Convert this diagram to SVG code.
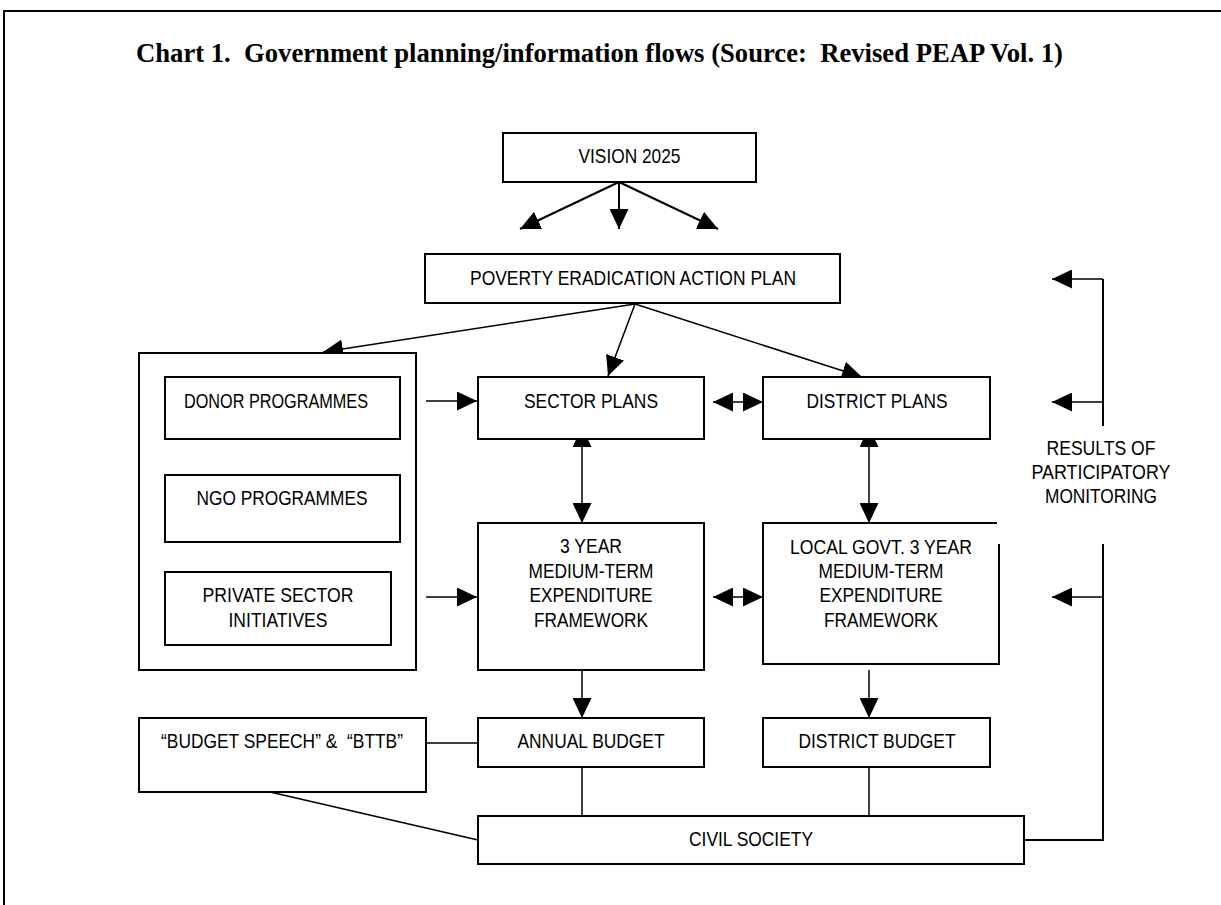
<svg xmlns="http://www.w3.org/2000/svg" width="1221" height="905" viewBox="0 0 1221 905">
<style>
.box{fill:#fff;stroke:#000;stroke-width:2}
.t{font-family:"Liberation Sans Narrow","Arial Narrow","Liberation Sans",Arial,sans-serif;font-size:21px;fill:#000;text-anchor:middle}
.title{font-family:"Liberation Serif","Times New Roman",serif;font-size:26.5px;font-weight:bold;fill:#000}
.c{fill:none;stroke:#000;stroke-width:1.5}
.cw{fill:none;stroke:#000;stroke-width:2}
.a{marker-end:url(#ah)}
.d{marker-start:url(#ah);marker-end:url(#ah)}
</style>
<defs>
<marker id="ah" viewBox="0 0 20 19" refX="20" refY="9.5" markerWidth="20" markerHeight="19" markerUnits="userSpaceOnUse" orient="auto-start-reverse">
<path d="M0,0 L20,9.5 L0,19 Z" fill="#000"/>
</marker>
</defs>
<rect x="0" y="0" width="1221" height="905" fill="#fff"/>
<rect id="frame" x="4" y="11" width="1240" height="920" fill="none" stroke="#000" stroke-width="2"/>
<text class="title" x="136" y="62" textLength="927" lengthAdjust="spacingAndGlyphs" xml:space="preserve">Chart 1.  Government planning/information flows (Source:  Revised PEAP Vol. 1)</text>

<g id="connectors">
<line class="cw a" x1="619" y1="182" x2="520" y2="229"/>
<line class="cw a" x1="619" y1="182" x2="619" y2="229"/>
<line class="cw a" x1="619" y1="182" x2="718" y2="229"/>
<line class="c a" x1="635" y1="304" x2="323" y2="352"/>
<line class="c a" x1="635" y1="304" x2="608" y2="376"/>
<line class="c a" x1="635" y1="304" x2="862" y2="377"/>
<line class="c a" x1="426" y1="401" x2="477" y2="401"/>
<line class="c a" x1="426" y1="597" x2="477" y2="597"/>
<line class="c d" x1="713" y1="402" x2="763" y2="402"/>
<line class="c d" x1="713" y1="597" x2="763" y2="597"/>
<line class="c d" x1="582" y1="427" x2="582" y2="523"/>
<line class="c d" x1="869" y1="427" x2="869" y2="523"/>
<line class="c a" x1="582" y1="670" x2="582" y2="718"/>
<line class="c a" x1="869" y1="670" x2="869" y2="718"/>
<line class="c" x1="426" y1="743" x2="478" y2="743"/>
<line class="c" x1="582" y1="767" x2="582" y2="816"/>
<line class="c" x1="869" y1="767" x2="869" y2="816"/>
<line class="c" x1="270" y1="792" x2="478" y2="840"/>
<polyline class="cw" points="1024,840 1103,840 1103,544"/>
<line class="cw" x1="1103" y1="279" x2="1103" y2="426"/>
<line class="c a" x1="1103" y1="279" x2="1052" y2="279"/>
<line class="c a" x1="1103" y1="402" x2="1052" y2="402"/>
<line class="c a" x1="1103" y1="597" x2="1052" y2="597"/>
</g>

<g id="vision">
<rect class="box" x="503" y="133" width="253" height="49"/>
<text class="t" x="629.5" y="163" textLength="102" lengthAdjust="spacingAndGlyphs">VISION 2025</text>
</g>
<g id="peap">
<rect class="box" x="425" y="254" width="415" height="49"/>
<text class="t" x="633" y="285" textLength="326" lengthAdjust="spacingAndGlyphs">POVERTY ERADICATION ACTION PLAN</text>
</g>
<g id="nonstate">
<rect class="box" x="139" y="353" width="277" height="317"/>
</g>
<g id="donor">
<rect class="box" x="165" y="377" width="235" height="62"/>
<text class="t" x="276" y="408" textLength="184" lengthAdjust="spacingAndGlyphs">DONOR PROGRAMMES</text>
</g>
<g id="ngo">
<rect class="box" x="165" y="475" width="235" height="67"/>
<text class="t" x="282" y="505" textLength="171" lengthAdjust="spacingAndGlyphs">NGO PROGRAMMES</text>
</g>
<g id="private">
<rect class="box" x="165" y="572" width="226" height="73"/>
<text class="t" x="278" y="602" textLength="151" lengthAdjust="spacingAndGlyphs">PRIVATE SECTOR</text>
<text class="t" x="278" y="627" textLength="99" lengthAdjust="spacingAndGlyphs">INITIATIVES</text>
</g>
<g id="sector">
<rect class="box" x="478" y="377" width="226" height="62"/>
<text class="t" x="591" y="408" textLength="134" lengthAdjust="spacingAndGlyphs">SECTOR PLANS</text>
</g>
<g id="district">
<rect class="box" x="763" y="377" width="227" height="62"/>
<text class="t" x="877" y="408" textLength="141" lengthAdjust="spacingAndGlyphs">DISTRICT PLANS</text>
</g>
<g id="mtef">
<rect class="box" x="478" y="523" width="226" height="147"/>
<text class="t" x="591" y="553" textLength="62" lengthAdjust="spacingAndGlyphs">3 YEAR</text>
<text class="t" x="591" y="578" textLength="125" lengthAdjust="spacingAndGlyphs">MEDIUM-TERM</text>
<text class="t" x="591" y="602" textLength="123" lengthAdjust="spacingAndGlyphs">EXPENDITURE</text>
<text class="t" x="591" y="627" textLength="114" lengthAdjust="spacingAndGlyphs">FRAMEWORK</text>
</g>
<g id="localmtef">
<path d="M997,523 H763 V664 H999 V544" fill="#fff" stroke="#000" stroke-width="2"/>
<text class="t" x="881" y="554" textLength="182" lengthAdjust="spacingAndGlyphs">LOCAL GOVT. 3 YEAR</text>
<text class="t" x="881" y="578" textLength="125" lengthAdjust="spacingAndGlyphs">MEDIUM-TERM</text>
<text class="t" x="881" y="602" textLength="123" lengthAdjust="spacingAndGlyphs">EXPENDITURE</text>
<text class="t" x="881" y="627" textLength="114" lengthAdjust="spacingAndGlyphs">FRAMEWORK</text>
</g>
<g id="speech">
<rect class="box" x="139" y="718" width="287" height="74"/>
<text class="t" x="282" y="748" textLength="242" lengthAdjust="spacingAndGlyphs" xml:space="preserve">“BUDGET SPEECH” &amp;  “BTTB”</text>
</g>
<g id="annual">
<rect class="box" x="478" y="718" width="226" height="49"/>
<text class="t" x="591" y="748" textLength="147" lengthAdjust="spacingAndGlyphs">ANNUAL BUDGET</text>
</g>
<g id="districtbudget">
<rect class="box" x="763" y="718" width="227" height="49"/>
<text class="t" x="877" y="748" textLength="157" lengthAdjust="spacingAndGlyphs">DISTRICT BUDGET</text>
</g>
<g id="civil">
<rect class="box" x="478" y="816" width="546" height="48"/>
<text class="t" x="751" y="846" textLength="124" lengthAdjust="spacingAndGlyphs">CIVIL SOCIETY</text>
</g>
<g id="monitoring">
<text class="t" x="1101" y="455" textLength="109" lengthAdjust="spacingAndGlyphs">RESULTS OF</text>
<text class="t" x="1101" y="479" textLength="139" lengthAdjust="spacingAndGlyphs">PARTICIPATORY</text>
<text class="t" x="1101" y="503" textLength="112" lengthAdjust="spacingAndGlyphs">MONITORING</text>
</g>
</svg>
